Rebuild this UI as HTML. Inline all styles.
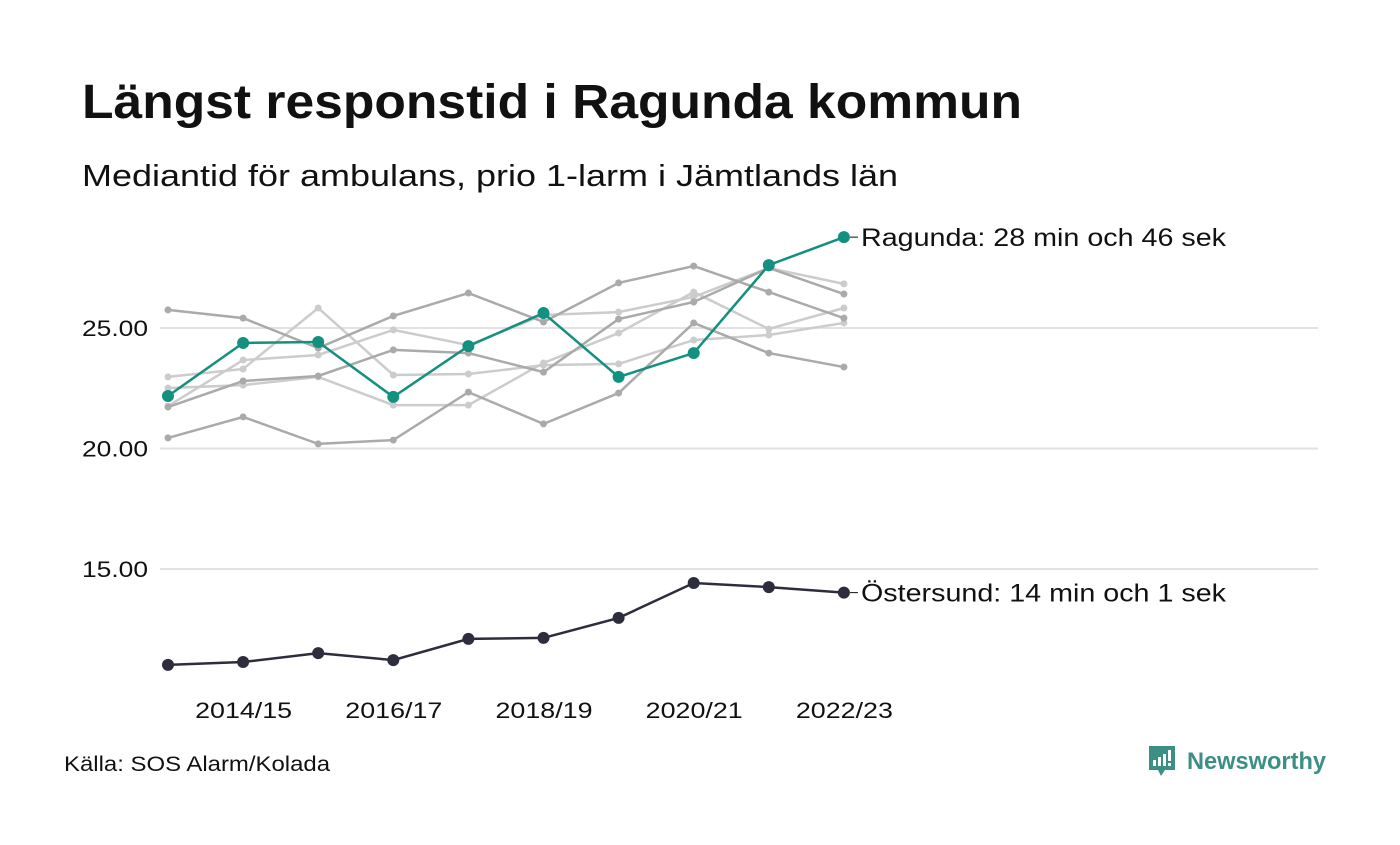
<!DOCTYPE html>
<html><head><meta charset="utf-8"><style>
body{margin:0;background:#fff;width:1400px;height:840px;overflow:hidden;font-family:"Liberation Sans",sans-serif}
</style></head><body>
<svg id="c" width="1400" height="840" xmlns="http://www.w3.org/2000/svg">
<text x="82" y="118" font-size="48" font-weight="bold" fill="#111" textLength="940" lengthAdjust="spacingAndGlyphs">Längst responstid i Ragunda kommun</text>
<text x="82" y="186" font-size="31" fill="#111" textLength="816" lengthAdjust="spacingAndGlyphs">Mediantid för ambulans, prio 1-larm i Jämtlands län</text>
<text x="64" y="771" font-size="21" fill="#111" textLength="266" lengthAdjust="spacingAndGlyphs">Källa: SOS Alarm/Kolada</text>
<g>
<path d="M1149 746h26v24h-10l-4 6-3-6h-9z" fill="#3c8f84"/>
<rect x="1153" y="760" width="3" height="6" fill="#fff"/><rect x="1158" y="757" width="3" height="9" fill="#fff"/><rect x="1163" y="754" width="3" height="12" fill="#fff"/><rect x="1168" y="750" width="3" height="11" fill="#fff"/><rect x="1168" y="763" width="3" height="3" fill="#fff"/>
<text x="1187" y="769" font-size="24" font-weight="bold" fill="#3c8f84" textLength="139" lengthAdjust="spacingAndGlyphs">Newsworthy</text>
</g>
<g id="grid"></g><g id="lines"></g><g id="labels"></g>
</svg>
<script>
const categories=["2013/14","2014/15","2015/16","2016/17","2017/18","2018/19","2019/20","2020/21","2021/22","2022/23"];
const yTicks=[15,20,25];
const ragunda=[22.18,24.38,24.42,22.14,24.25,25.62,22.97,23.96,27.61,28.77];
const ostersund=[11.02,11.14,11.51,11.22,12.10,12.14,12.97,14.42,14.25,14.02];
const other1=[25.75,25.41,24.17,25.50,26.45,25.25,26.87,27.57,26.49,25.41];
const other2=[22.97,23.30,25.83,23.05,23.09,23.46,23.51,24.50,24.71,25.21];
const other3=[20.44,21.31,20.19,20.35,22.34,21.02,22.30,25.21,23.96,23.38];
const other4=[21.72,22.80,23.01,24.09,23.96,23.17,25.37,26.08,27.49,26.41];
const other5=[22.51,22.63,22.97,21.80,21.80,23.55,24.79,26.49,24.96,25.83];
const other6=[21.76,23.67,23.88,24.92,24.29,25.54,25.66,26.29,27.49,26.83];
const xLabelIdx=[1,3,5,7,9];
const NS="http://www.w3.org/2000/svg";
const x=i=>168+i*75.1;
const y=v=>328-(v-25)*24.1;
function mk(tag,attrs,parent){const e=document.createElementNS(NS,tag);for(const k in attrs)e.setAttribute(k,attrs[k]);parent.appendChild(e);return e;}
const grid=document.getElementById('grid'),lines=document.getElementById('lines'),labels=document.getElementById('labels');
yTicks.forEach(t=>{
 const l=mk('line',{x1:160,x2:1318,y1:y(t),y2:y(t),stroke:'#e2e2e2','stroke-width':2},grid);
 
 
 const tx=mk('text',{x:148,y:y(t)+8,'font-size':22,'text-anchor':'end',fill:'#111',textLength:66,lengthAdjust:'spacingAndGlyphs'},grid);
 tx.textContent=t.toFixed(2);
 
 
});
xLabelIdx.forEach(i=>{
 const tx=mk('text',{x:x(i)-48,y:718,'font-size':22,fill:'#111',textLength:97,lengthAdjust:'spacingAndGlyphs'},labels);
 tx.textContent=categories[i];
 
 
});
function series(vals,color,w,r,name){
 const g=mk('g',{},lines);
 
 
 mk('polyline',{points:vals.map((v,i)=>x(i)+','+y(v)).join(' '),fill:'none',stroke:color,'stroke-width':w},g);
 vals.forEach((v,i)=>{const c=mk('circle',{cx:x(i),cy:y(v),r:r,fill:color},g);
  
  });
}
series(other2,'#cccccc',2.5,3.5,'series-other-2');
series(other5,'#cccccc',2.5,3.5,'series-other-5');
series(other6,'#cccccc',2.5,3.5,'series-other-6');
series(other1,'#aaaaaa',2.5,3.5,'series-other-1');
series(other3,'#aaaaaa',2.5,3.5,'series-other-3');
series(other4,'#aaaaaa',2.5,3.5,'series-other-4');
series(ostersund,'#2e2d3d',2.5,6,'series-ostersund');
series(ragunda,'#13907f',2.5,6,'series-ragunda');
function lab(v,txt,name){const t=mk('text',{x:861,y:y(v)+9,'font-size':25,fill:'#111',textLength:365,lengthAdjust:'spacingAndGlyphs'},labels);t.textContent=txt;
 
 
 mk('line',{x1:850,x2:858,y1:y(v),y2:y(v),stroke:'#111','stroke-width':1},labels);}
lab(ragunda[9],'Ragunda: 28 min och 46 sek','ragunda-label');
lab(ostersund[9],'Östersund: 14 min och 1 sek','ostersund-label');
</script>
</body></html>
